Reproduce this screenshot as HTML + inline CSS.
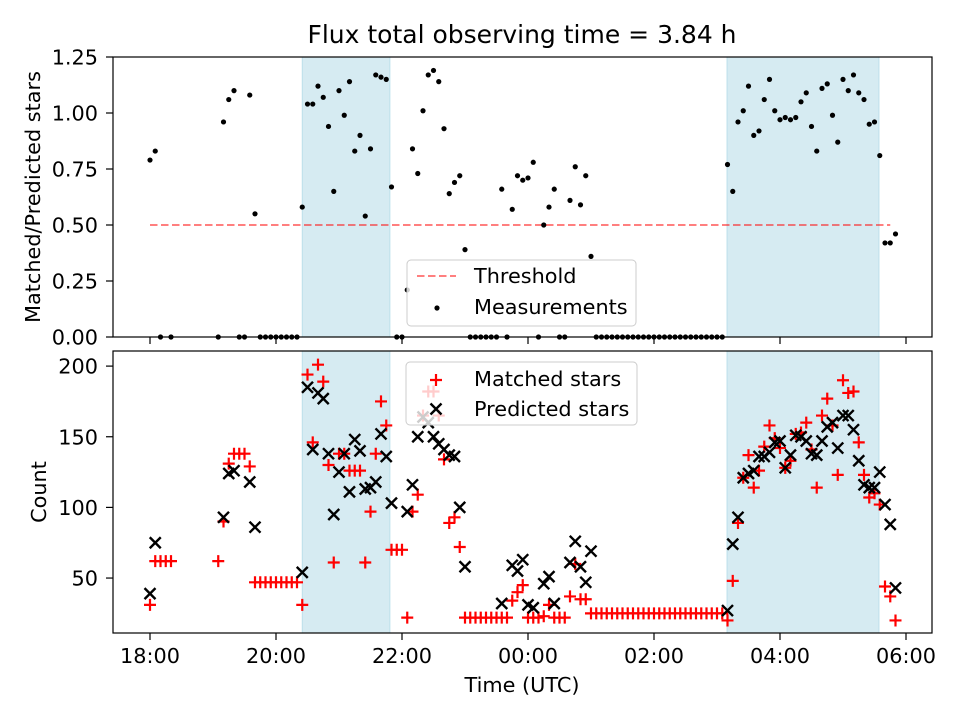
<!DOCTYPE html>
<html><head><meta charset="utf-8"><style>
html,body{margin:0;padding:0;background:#fff}
svg{display:block;font-family:"DejaVu Sans","Liberation Sans",sans-serif}
</style></head><body>
<svg id="fig" width="960" height="720" viewBox="0 0 960 720" xmlns="http://www.w3.org/2000/svg">
<rect width="960" height="720" fill="#fff"/>
<text x="522" y="43" font-size="25" text-anchor="middle">Flux total observing time = 3.84 h</text>
<g id="topPanel"></g>
<g id="botPanel"></g>
<text transform="translate(40,197) rotate(-90)" font-size="20.8" text-anchor="middle">Matched/Predicted stars</text>
<text transform="translate(46,492) rotate(-90)" font-size="20.8" text-anchor="middle">Count</text>
<text x="522" y="692" font-size="20.8" text-anchor="middle">Time (UTC)</text>
</svg>
<script>
// minutes since 18:00
const ratioTimes=[0,5,70,75,80,95,100,145,150,155,160,165,170,175,180,185,190,195,200,205,210,215,220,225,230,245,250,255,260,265,270,275,280,285,290,295,300,335,345,350,355,360,365,375,380,385,400,405,410,415,420,550,555,560,565,570,575,580,585,590,595,600,605,610,615,620,625,630,635,640,645,650,655,660,665,670,675,680,685,690,695,700,705,710];
const ratioValues=[0.79,0.83,0.96,1.06,1.10,1.08,0.55,0.58,1.04,1.04,1.12,1.07,0.94,0.65,1.10,0.99,1.14,0.83,0.90,0.54,0.84,1.17,1.16,1.15,0.67,0.21,0.84,0.73,1.01,1.17,1.19,1.14,0.93,0.64,0.69,0.72,0.39,0.66,0.57,0.72,0.70,0.71,0.78,0.50,0.58,0.66,0.61,0.76,0.59,0.72,0.36,0.77,0.65,0.96,1.01,1.12,0.90,0.92,1.06,1.15,1.01,0.97,0.98,0.97,0.98,1.05,1.09,0.94,0.83,1.11,1.13,0.99,0.87,1.15,1.10,1.17,1.09,1.06,0.95,0.96,0.81,0.42,0.42,0.46];
const zeroTimes=[10,20,65,85,90,105,110,115,120,125,130,135,140,235,240,305,310,315,320,325,330,340,370,390,395,425,430,435,440,445,450,455,460,465,470,475,480,485,490,495,500,505,510,515,520,525,530,535,540,545];
const matchedTimes=[0,5,10,15,20,65,70,75,80,85,90,95,100,105,110,115,120,125,130,135,140,145,150,155,160,165,170,175,180,185,190,195,200,205,210,215,220,225,230,235,240,245,250,255,260,265,270,275,280,285,290,295,300,305,310,315,320,325,330,335,340,345,350,355,360,365,370,375,380,385,390,395,400,405,410,415,420,425,430,435,440,445,450,455,460,465,470,475,480,485,490,495,500,505,510,515,520,525,530,535,540,545,550,555,560,565,570,575,580,585,590,595,600,605,610,615,620,625,630,635,640,645,650,655,660,665,670,675,680,685,690,695,700,705,710];
const matchedValues=[31,62,62,62,62,62,90,131,138,138,138,129,47,47,47,47,47,47,47,47,47,31,194,146,201,189,130,61,138,138,126,126,126,61,97,138,175,158,70,70,70,22,97,109,165,182,182,165,134,89,93,72,22,22,22,22,22,22,22,22,22,34,40,45,22,22,22,23,31,22,22,22,37,60,35,35,25,25,25,25,25,25,25,25,25,25,25,25,25,25,25,25,25,25,25,25,25,25,25,25,25,25,20,48,89,121,137,114,126,143,158,149,142,128,133,152,153,160,141,114,165,177,158,123,190,181,182,146,123,107,110,102,44,37,20];
const predictedTimes=[0,5,70,75,80,95,100,145,150,155,160,165,170,175,180,185,190,195,200,205,210,215,220,225,230,245,250,255,260,265,270,275,280,285,290,295,300,335,345,350,355,360,365,375,380,385,400,405,410,415,420,550,555,560,565,570,575,580,585,590,595,600,605,610,615,620,625,630,635,640,645,650,655,660,665,670,675,680,685,690,695,700,705,710];
const predictedValues=[39,75,93,124,126,118,86,54,185,141,181,177,138,95,125,138,111,148,140,113,114,118,152,136,103,97,116,150,164,160,150,145,141,137,136,100,58,32,59,55,63,31,29,46,51,32,61,76,58,47,69,27,74,93,121,124,126,136,136,139,146,147,128,137,151,150,147,138,137,147,157,160,142,165,165,155,133,116,114,114,125,102,88,43];
const shadeSpans=[[145,228.5],[549.5,694.3]];
const thresholdValue=0.5, thresholdStart=0, thresholdEnd=705;
const xTicks=[0,120,240,360,480,600,720];
const xTickLabels=["18:00","20:00","22:00","00:00","02:00","04:00","06:00"];
const topTicks=[0,0.25,0.5,0.75,1.0,1.25];
const topTickLabels=["0.00","0.25","0.50","0.75","1.00","1.25"];
const botTicks=[50,100,150,200];
const botTickLabels=["50","100","150","200"];

const NS="http://www.w3.org/2000/svg";
const X0=113,X1=932;
const FS=20.8;
const xs=m=>150+m*1.05;
const yTop=v=>337-v*224;
const yBot=c=>648.7-c*1.413;
function mk(tag,attrs,parent){const e=document.createElementNS(NS,tag);for(const k in attrs)e.setAttribute(k,attrs[k]);parent.appendChild(e);return e;}

function panel(g,y0,y1,yf,ticks,labels,showX,prefix){
  shadeSpans.forEach((s,i)=>{
    const r=mk('rect',{x:xs(s[0]),y:y0,width:xs(s[1])-xs(s[0]),height:y1-y0,fill:'#add8e6','fill-opacity':0.5,stroke:'#add8e6','stroke-opacity':0.7},g);
    
    
  });
  ticks.forEach((t,i)=>{
    const y=yf(t);
    const l=mk('line',{x1:X0-7,x2:X0,y1:y,y2:y,stroke:'#000','stroke-width':1.2},g);
    
    
    const tx=mk('text',{x:X0-15,y:y+7.5,'font-size':FS,'text-anchor':'end'},g);
    tx.textContent=labels[i];
    
    
  });
  xTicks.forEach((t,i)=>{
    const x=xs(t);
    const l=mk('line',{x1:x,x2:x,y1:y1,y2:y1+7,stroke:'#000','stroke-width':1.2},g);
    
    
    if(showX){
      const tx=mk('text',{x:x,y:y1+30,'font-size':FS,'text-anchor':'middle'},g);
      tx.textContent=xTickLabels[i];
      
      
    }
  });
}

const topG=document.getElementById('topPanel');
panel(topG,57,337,yTop,topTicks,topTickLabels,false,'top');
const th=mk('line',{x1:xs(thresholdStart),x2:xs(thresholdEnd),y1:yTop(thresholdValue),y2:yTop(thresholdValue),stroke:'#ff0000','stroke-opacity':0.5,'stroke-width':2,'stroke-dasharray':'7.5,3.5'},topG);


ratioTimes.forEach((t,i)=>{
  const c=mk('circle',{cx:xs(t),cy:yTop(ratioValues[i]),r:2.6,fill:'#000'},topG);
  
  
});
zeroTimes.forEach(t=>{
  const c=mk('circle',{cx:xs(t),cy:yTop(0),r:2.6,fill:'#000'},topG);
  
  
});
const f1=mk('rect',{x:X0,y:57,width:X1-X0,height:280,fill:'none',stroke:'#000','stroke-width':1.2},topG);



const botG=document.getElementById('botPanel');
panel(botG,351,633,yBot,botTicks,botTickLabels,true,'bottom');
function plus(x,y,g,color){
  return mk('path',{d:`M${x-6},${y}H${x+6}M${x},${y-6}V${y+6}`,stroke:color,'stroke-width':2.2,fill:'none'},g);
}
function cross(x,y,g,color){
  return mk('path',{d:`M${x-5.5},${y-5.5}L${x+5.5},${y+5.5}M${x-5.5},${y+5.5}L${x+5.5},${y-5.5}`,stroke:color,'stroke-width':2.4,fill:'none'},g);
}
matchedTimes.forEach((t,i)=>{
  const p=plus(xs(t),yBot(matchedValues[i]),botG,'#ff0000');
  
  
});
predictedTimes.forEach((t,i)=>{
  const p=cross(xs(t),yBot(predictedValues[i]),botG,'#000');
  
  
});
const f2=mk('rect',{x:X0,y:351,width:X1-X0,height:282,fill:'none',stroke:'#000','stroke-width':1.2},botG);



const svgEl=document.getElementById('fig');
const lg1=mk('g',{},svgEl);


mk('rect',{x:407,y:260,width:229,height:66,rx:4,fill:'#fff','fill-opacity':0.8,stroke:'#ccc'},lg1);
const le1=mk('line',{x1:417,x2:456,y1:276,y2:276,stroke:'#ff0000','stroke-opacity':0.5,'stroke-width':2,'stroke-dasharray':'7.5,3.5'},lg1);


const lt1=mk('text',{x:474,y:283,'font-size':FS},lg1);lt1.textContent='Threshold';


const ld=mk('circle',{cx:437,cy:308,r:2.6,fill:'#000'},lg1);


const lt2=mk('text',{x:474,y:314,'font-size':FS},lg1);lt2.textContent='Measurements';



const lg2=mk('g',{},svgEl);


mk('rect',{x:406,y:362,width:231,height:63,rx:4,fill:'#fff','fill-opacity':0.8,stroke:'#ccc'},lg2);
const lm=plus(436,380,lg2,'#ff0000');


const lt3=mk('text',{x:474,y:386,'font-size':FS},lg2);lt3.textContent='Matched stars';


const lp=cross(436,409,lg2,'#000');


const lt4=mk('text',{x:474,y:416,'font-size':FS},lg2);lt4.textContent='Predicted stars';


</script>
</body></html>
